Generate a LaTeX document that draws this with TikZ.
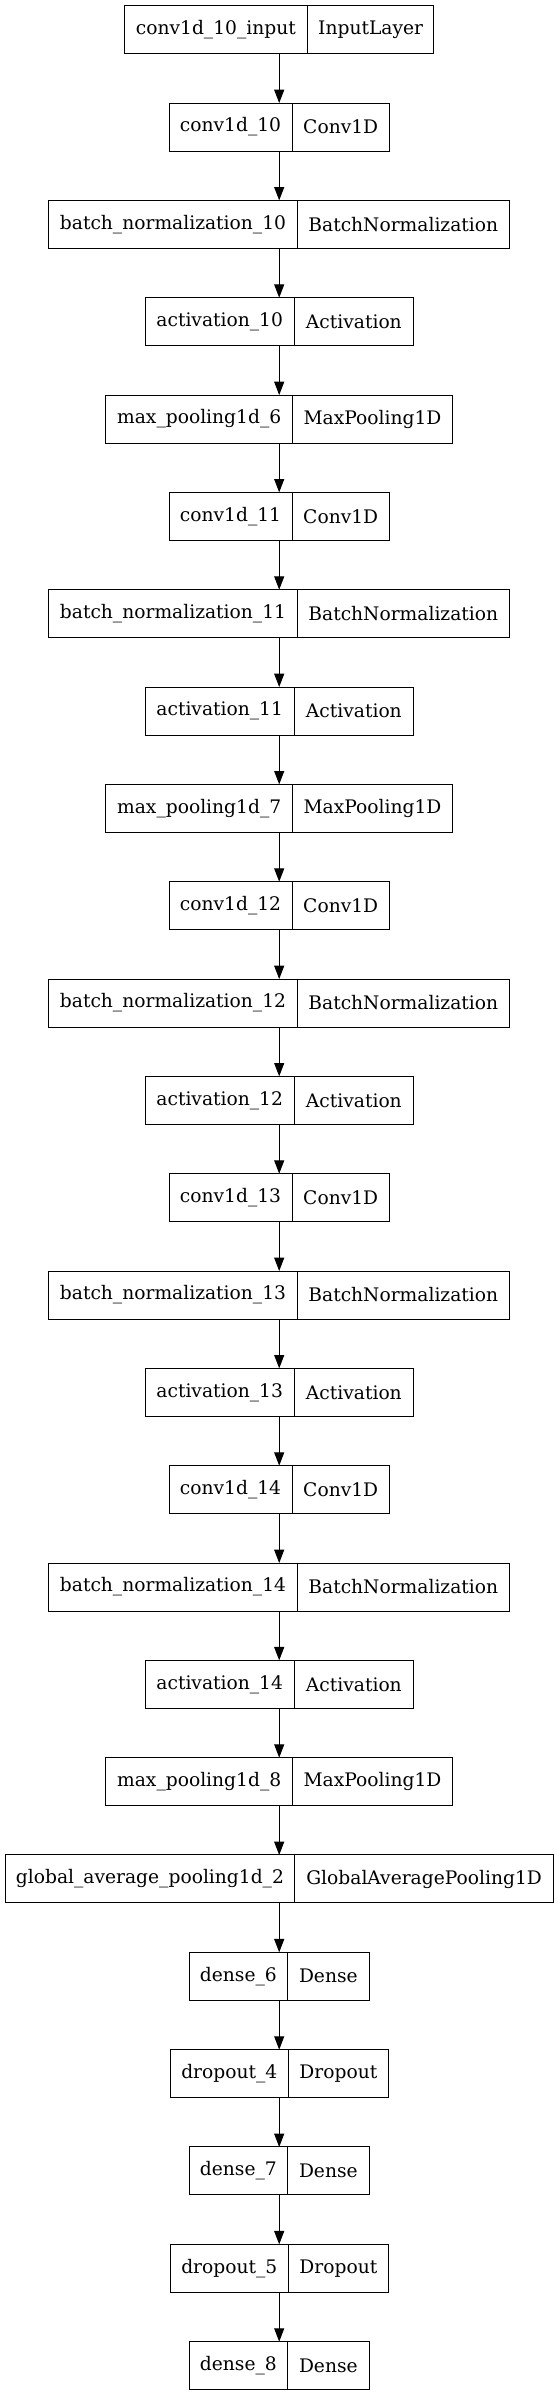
\documentclass[tikz,border=0pt]{standalone}
\usepackage{fontspec}
\setmainfont{DejaVu Serif}
\usetikzlibrary{arrows.meta}
\tikzset{
  rec/.style={draw=black, line width=0.75pt, inner sep=0pt, outer sep=0pt, minimum height=36pt},
  fld/.style={inner sep=0pt, outer sep=0pt, minimum height=36pt, font=\fontsize{14}{16.8}\selectfont},
  divline/.style={draw=black, line width=0.75pt},
  arr/.style={draw=black, line width=0.75pt, -{Triangle[length=10pt,width=7.5pt]}}
}
\newcommand\lay[5]{%
  \pgfmathsetmacro\tp{5.7+(#1-1)*97.33+24}%
  \node[rec, minimum width={(#4+#5)*0.75pt}] (b#1) at (279.2,\tp) {};
  \node[fld, minimum width={#4*0.75pt}, anchor=west] (b#1l) at (b#1.west) {#2};
  \node[fld, minimum width={#5*0.75pt}, anchor=east] (b#1r) at (b#1.east) {#3};
  \draw[divline] (b#1l.north east) -- (b#1l.south east);
}
\begin{document}
\begin{tikzpicture}[x=0.75pt, y=-0.75pt]
\fill[white] (0,0) rectangle (559,2396);
\useasboundingbox (0,0) rectangle (559,2396);
\lay{1}{conv1d\_10\_input}{InputLayer}{182.9}{126.6}
\lay{2}{conv1d\_10}{Conv1D}{123}{97.3}
\lay{3}{batch\_normalization\_10}{BatchNormalization}{248.2}{212.4}
\lay{4}{activation\_10}{Activation}{149.3}{119}
\lay{5}{max\_pooling1d\_6}{MaxPooling1D}{186.6}{160}
\lay{6}{conv1d\_11}{Conv1D}{123}{97.3}
\lay{7}{batch\_normalization\_11}{BatchNormalization}{248.2}{212.4}
\lay{8}{activation\_11}{Activation}{149.3}{119}
\lay{9}{max\_pooling1d\_7}{MaxPooling1D}{186.6}{160}
\lay{10}{conv1d\_12}{Conv1D}{123}{97.3}
\lay{11}{batch\_normalization\_12}{BatchNormalization}{248.2}{212.4}
\lay{12}{activation\_12}{Activation}{149.3}{119}
\lay{13}{conv1d\_13}{Conv1D}{123}{97.3}
\lay{14}{batch\_normalization\_13}{BatchNormalization}{248.2}{212.4}
\lay{15}{activation\_13}{Activation}{149.3}{119}
\lay{16}{conv1d\_14}{Conv1D}{123}{97.3}
\lay{17}{batch\_normalization\_14}{BatchNormalization}{248.2}{212.4}
\lay{18}{activation\_14}{Activation}{149.3}{119}
\lay{19}{max\_pooling1d\_8}{MaxPooling1D}{186.6}{160}
\lay{20}{global\_average\_pooling1d\_2}{GlobalAveragePooling1D}{289.8}{258.5}
\lay{21}{dense\_6}{Dense}{98.3}{81.7}
\lay{22}{dropout\_4}{Dropout}{118.4}{99.8}
\lay{23}{dense\_7}{Dense}{98.3}{81.7}
\lay{24}{dropout\_5}{Dropout}{118.4}{99.8}
\lay{25}{dense\_8}{Dense}{98.3}{81.7}
\foreach \i [evaluate=\i as \j using int(\i+1)] in {1,...,24} {
  \draw[arr] (b\i.south) -- (b\j.north);
}
\end{tikzpicture}
\end{document}
